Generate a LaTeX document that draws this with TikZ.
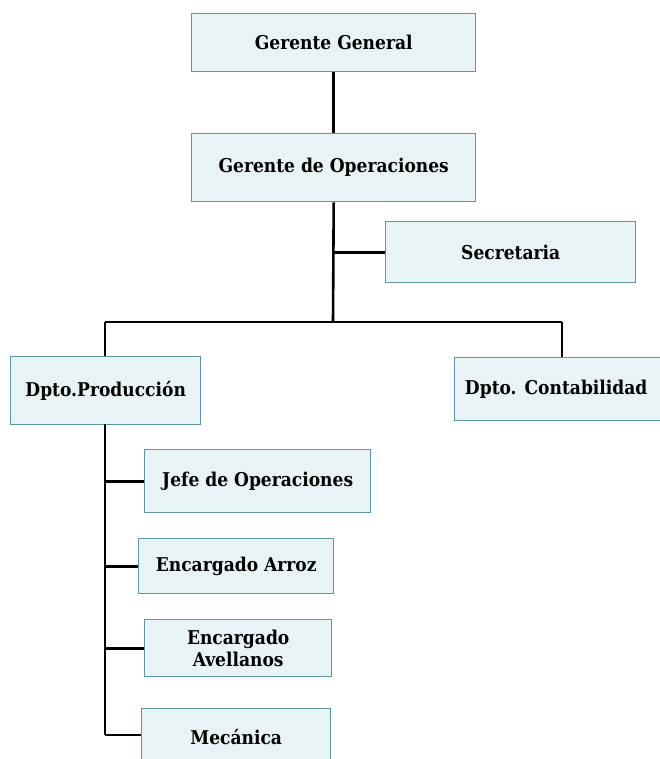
\documentclass[tikz,border=0pt]{standalone}
\usepackage{fontspec}
\setmainfont{DejaVu Serif Condensed}
\begin{document}
\begin{tikzpicture}[x=1pt,y=-1pt,
  unitbox/.style={draw=boxedge,fill=boxfill,line width=1.4pt,rectangle,anchor=north west,
    font=\bfseries\fontsize{19}{22}\selectfont,align=center,inner sep=0pt},
  link/.style={draw=black,line width=2.6pt}]
\definecolor{boxfill}{RGB}{232,243,246}
\definecolor{boxedge}{RGB}{95,150,165}
\useasboundingbox (0,0) rectangle (660,759);
\clip (0,0) rectangle (660,759);
% boxes placed by their top-left corner
\node[unitbox,minimum width=284pt,minimum height=58pt] (gg) at (191,13) {Gerente General};
\node[unitbox,minimum width=284pt,minimum height=68pt] (go) at (191,133) {Gerente de Operaciones};
\node[unitbox,minimum width=250pt,minimum height=61pt] (sec) at (385,221) {Secretaria};
\node[unitbox,minimum width=190pt,minimum height=68pt] (prod) at (10,356) {Dpto.Producción};
\node[unitbox,minimum width=215pt,minimum height=63pt] (cont) at (454,357) {\hspace*{-12pt}Dpto. Contabilidad};
\node[unitbox,minimum width=226pt,minimum height=63pt] (jefe) at (144,449) {Jefe de Operaciones};
\node[unitbox,minimum width=195pt,minimum height=55pt] (arroz) at (138,538) {Encargado Arroz};
\node[unitbox,minimum width=187pt,minimum height=57pt] (avel) at (144,619) {Encargado\\Avellanos};
% bottom box runs past the lower edge; the strut lifts its text
\node[unitbox,minimum width=189pt,minimum height=70pt] (mec) at (141,708) {Mecánica\rule[-14pt]{0pt}{14pt}};
% junction points
\coordinate (bar) at (333,322);
\coordinate (barL) at (105,322);
\coordinate (barR) at (562,322);
\coordinate (tr0) at (105,424);
\coordinate (trEnd) at (105,735);
% connectors
\draw[link] (gg.south) -- (go.north);
\draw[link] (go.south) -- (bar);
\draw[link] (sec.west) -- (sec.west -| bar);
\draw[link] (barL) -- (barR);
\draw[link] (barL) -- (barL |- prod.north);
\draw[link] (barR) -- (barR |- cont.north);
\draw[link] (tr0) -- (trEnd);
\draw[link] (jefe.west) -- (jefe.west -| tr0);
\draw[link] (arroz.west) -- (arroz.west -| tr0);
\draw[link] (avel.west) -- (avel.west -| tr0);
\draw[link] (trEnd) -- (trEnd -| mec.west);
\end{tikzpicture}
\end{document}
